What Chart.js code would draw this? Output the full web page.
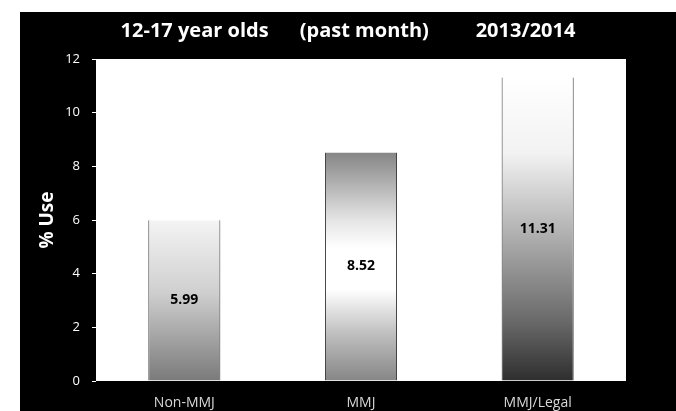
<!DOCTYPE html>
<html>
<head>
<meta charset="utf-8">
<script src="https://cdn.jsdelivr.net/npm/chart.js@4"></script>
<style>
  html, body { margin: 0; padding: 0; background: #ffffff; }
  body { width: 676px; height: 411px; position: relative; overflow: hidden; }
  #frame { position: absolute; left: 20px; top: 12px; width: 656px; height: 399px; background: #000; }
  #chart { display: block; }
</style>
</head>
<body>
<div id="frame"><canvas id="chart" width="656" height="399"></canvas></div>
<script>
// Past-month use among 12-17 year olds, 2013/2014
const categories = ['Non-MMJ', 'MMJ', 'MMJ/Legal'];
const useValues = [5.99, 8.52, 11.31];
const yTicks = [0, 2, 4, 6, 8, 10, 12];

const FONT = '"Open Sans", "Liberation Sans", sans-serif';

// Vertical shading of each bar, top (0) to bottom (1)
const barShades = [
  [[0, '#f4f4f4'], [0.45, '#cfcfcf'], [1, '#7a7a7a']],
  [[0, '#858585'], [0.3, '#e6e6e6'], [0.42, '#ffffff'], [0.6, '#ffffff'], [0.8, '#bdbdbd'], [1, '#868686']],
  [[0, '#ffffff'], [0.25, '#f2f2f2'], [0.5, '#b4b4b4'], [0.8, '#6a6a6a'], [1, '#2e2e2e']]
];

function barGradient(context) {
  const chart = context.chart;
  const i = context.dataIndex;
  if (!chart.chartArea || i === undefined) return '#bbbbbb';
  const y = chart.scales.y;
  const top = y.getPixelForValue(useValues[i]);
  const bottom = y.getPixelForValue(0);
  const g = chart.ctx.createLinearGradient(0, top, 0, bottom);
  barShades[i].forEach(([stop, color]) => g.addColorStop(stop, color));
  return g;
}

// White plotting field behind the bars
const plotField = {
  id: 'plotField',
  beforeDraw(chart) {
    const { ctx, chartArea: a } = chart;
    ctx.save();
    ctx.fillStyle = '#ffffff';
    ctx.fillRect(a.left, a.top, a.right - a.left, a.bottom - a.top);
    ctx.restore();
  }
};

// Value written in the middle of each bar
const barValues = {
  id: 'barValues',
  afterDatasetsDraw(chart) {
    const { ctx } = chart;
    const meta = chart.getDatasetMeta(0);
    ctx.save();
    ctx.font = 'bold 14px ' + FONT;
    ctx.fillStyle = '#000000';
    ctx.textAlign = 'center';
    ctx.textBaseline = 'middle';
    meta.data.forEach((bar, i) => {
      const p = bar.getProps(['x', 'y', 'base'], true);
      ctx.fillText(useValues[i].toFixed(2), p.x, (p.y + p.base) / 2);
    });
    ctx.restore();
  }
};

new Chart(document.getElementById('chart'), {
  type: 'bar',
  data: {
    labels: categories,
    datasets: [{
      data: useValues,
      yAxisID: 'y',
      backgroundColor: barGradient,
      borderColor: '#3a3a3a',
      borderWidth: { left: 1, right: 1, top: 0, bottom: 0 },
      borderSkipped: false,
      barPercentage: 0.51,
      categoryPercentage: 0.8
    }]
  },
  options: {
    responsive: false,
    animation: false,
    layout: { padding: 0 },
    plugins: {
      legend: { display: false },
      tooltip: { enabled: false },
      title: {
        display: true,
        text: '12-17 year olds      (past month)         2013/2014',
        color: '#ffffff',
        font: { family: FONT, size: 20, weight: 'bold' },
        padding: { top: 7, bottom: 16 }
      }
    },
    scales: {
      x: {
        grid: { display: false },
        border: { display: false },
        ticks: { color: '#d8d8d8', font: { family: FONT, size: 14 }, padding: 6 },
        afterFit(scale) { scale.height = 30; }
      },
      y: {
        position: 'left',
        min: 0,
        max: 12,
        afterBuildTicks(scale) { scale.ticks = yTicks.map(v => ({ value: v })); },
        grid: { drawOnChartArea: false, color: '#ffffff', tickLength: 4 },
        border: { display: false },
        ticks: { color: '#ffffff', font: { family: FONT, size: 13 }, padding: 12 },
        title: {
          display: true,
          text: '% Use',
          color: '#ffffff',
          font: { family: FONT, size: 19, weight: 'bold' },
          padding: { top: 16, bottom: 0 }
        },
        afterFit(scale) { scale.width = 76; }
      },
      // empty black margin on the right of the plot
      side: {
        axis: 'y',
        position: 'right',
        min: 0,
        max: 12,
        grid: { display: false },
        border: { display: false },
        ticks: { display: false },
        afterFit(scale) { scale.width = 50; }
      }
    }
  },
  plugins: [plotField, barValues]
});
</script>
</body>
</html>
